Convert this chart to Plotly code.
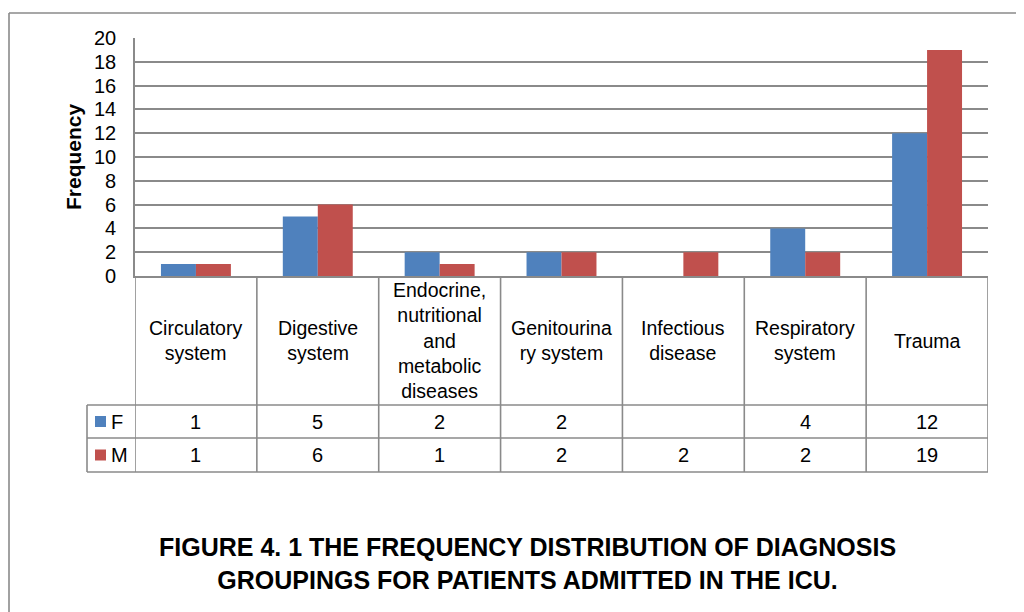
import plotly.graph_objects as go

categories = ["Circulatory system", "Digestive system",
              "Endocrine, nutritional and metabolic diseases",
              "Genitourinary system", "Infectious disease",
              "Respiratory system", "Trauma"]
category_labels = ["Circulatory<br>system", "Digestive<br>system",
                   "Endocrine,<br>nutritional<br>and<br>metabolic<br>diseases",
                   "Genitourina<br>ry system", "Infectious<br>disease",
                   "Respiratory<br>system", "Trauma"]
series_names = ["F", "M"]
female = [1, 5, 2, 2, None, 4, 12]
male = [1, 6, 1, 2, 2, 2, 19]
y_ticks = [0, 2, 4, 6, 8, 10, 12, 14, 16, 18, 20]
title_text = ("FIGURE 4. 1 THE FREQUENCY DISTRIBUTION OF DIAGNOSIS<br>"
              "GROUPINGS FOR PATIENTS ADMITTED IN THE ICU.")

OFF = 8  # page body margin
W, H = 1024 - OFF, 612 - OFF
L, R, T, B = 135 - OFF, 988 - OFF, 38 - OFF, 276 - OFF  # plot area in figure pixels
colors = ["#4F81BD", "#C0504D"]
line_col = "#8A8A8A"
FONT = "Liberation Sans, Arial, sans-serif"


def xp(px):
    # px given in screen pixels
    return (px - OFF - L) / (R - L)


def yp(py):
    return (B - (py - OFF)) / (B - T)


fig = go.Figure()
for name, vals, col in zip(series_names, [female, male], colors):
    fig.add_trace(go.Bar(x=categories, y=vals, name=name,
                         marker=dict(color=col, line=dict(width=0))))

n = len(categories)
shapes = []
annotations = []

# table rows (screen pixel positions of horizontal rules)
plot_bottom = 276
row_f_top, row_m_top, row_bottom = 405, 438, 472
left_tab = 87

# vertical lines of table
for i in range(n + 1):
    xv = i - 0.5
    shapes.append(dict(type="line", xref="x", yref="paper",
                       x0=xv, x1=xv, y0=yp(plot_bottom), y1=yp(row_bottom),
                       line=dict(color=line_col, width=1.6)))
# horizontal lines
for py in [row_f_top, row_m_top, row_bottom]:
    shapes.append(dict(type="line", xref="paper", yref="paper",
                       x0=xp(left_tab), x1=1, y0=yp(py), y1=yp(py),
                       line=dict(color=line_col, width=1.6)))
shapes.append(dict(type="line", xref="paper", yref="paper",
                   x0=xp(left_tab), x1=xp(left_tab),
                   y0=yp(row_f_top), y1=yp(row_bottom),
                   line=dict(color=line_col, width=1.6)))

# outer chart border (top and left)
shapes.append(dict(type="line", xref="paper", yref="paper",
                   x0=xp(9), x1=xp(1030), y0=yp(13), y1=yp(13),
                   line=dict(color=line_col, width=1.6)))
shapes.append(dict(type="line", xref="paper", yref="paper",
                   x0=xp(9), x1=xp(9), y0=yp(13), y1=yp(620),
                   line=dict(color=line_col, width=1.6)))

# category labels
for i, lab in enumerate(category_labels):
    annotations.append(dict(x=i, y=yp((plot_bottom + row_f_top) / 2), xref="x", yref="paper",
                            text=lab, showarrow=False, xanchor="center",
                            yanchor="middle", align="center",
                            font=dict(family=FONT, size=19.5, color="#000")))

# data values in the table
row_centers = [(row_f_top + row_m_top) / 2, (row_m_top + row_bottom) / 2]
for vals, rc in zip([female, male], row_centers):
    for i, v in enumerate(vals):
        if v is None:
            continue
        annotations.append(dict(x=i, y=yp(rc), xref="x", yref="paper",
                                text=str(v), showarrow=False, xanchor="center",
                                yanchor="middle",
                                font=dict(family=FONT, size=20, color="#000")))

# legend keys
for name, col, rc in zip(series_names, colors, row_centers):
    shapes.append(dict(type="rect", xref="paper", yref="paper",
                       x0=xp(95), x1=xp(106), y0=yp(rc - 5.5), y1=yp(rc + 5.5),
                       fillcolor=col, line=dict(width=0)))
    annotations.append(dict(x=xp(109), y=yp(rc), xref="paper", yref="paper",
                            text=name, showarrow=False, xanchor="left",
                            yanchor="middle",
                            font=dict(family=FONT, size=20, color="#000")))

# y axis title
annotations.append(dict(x=xp(73), y=yp((38 + 276) / 2), xref="paper", yref="paper",
                        text="<b>Frequency</b>", showarrow=False, textangle=-90,
                        xanchor="center", yanchor="middle",
                        font=dict(family=FONT, size=21, color="#000")))

# figure caption
annotations.append(dict(x=xp(527), y=yp(563), xref="paper", yref="paper",
                        text="<b>" + title_text + "</b>", showarrow=False,
                        xanchor="center", yanchor="middle", align="center",
                        font=dict(family=FONT, size=25, color="#000")))

fig.update_layout(
    width=W, height=H,
    margin=dict(l=L, r=W - R, t=T, b=H - B, pad=0),
    paper_bgcolor="white", plot_bgcolor="white",
    barmode="group", bargap=0.426, bargroupgap=0,
    showlegend=False,
    shapes=shapes, annotations=annotations,
    xaxis=dict(type="category", range=[-0.5, n - 0.5], showticklabels=False,
               showgrid=False, zeroline=False, showline=True,
               linecolor=line_col, linewidth=1.6, ticks=""),
    yaxis=dict(range=[0, 20], tickvals=y_ticks, showgrid=True,
               gridcolor=line_col, gridwidth=1.6, zeroline=False,
               showline=True, linecolor=line_col, linewidth=1.6,
               ticks="", ticklabelstandoff=13,
               tickfont=dict(family=FONT, size=20, color="#000")),
)

fig.write_html("out.html")
